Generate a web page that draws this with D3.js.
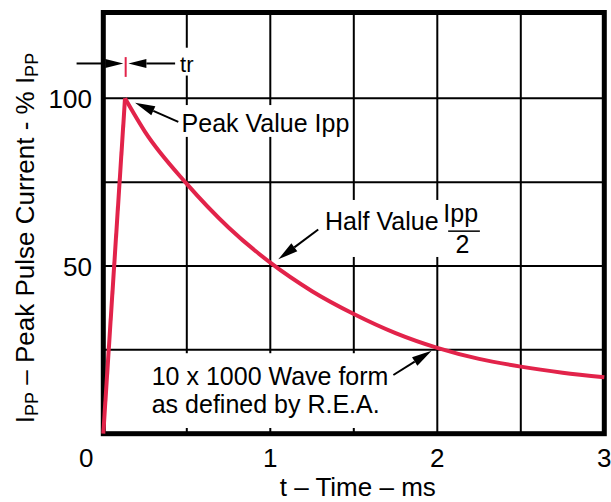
<!DOCTYPE html>
<html><head><meta charset="utf-8">
<script src="https://cdn.jsdelivr.net/npm/d3@7"></script>
<style>
html,body{margin:0;padding:0;background:#fff;}
svg{display:block;font-family:"Liberation Sans",Arial,Helvetica,sans-serif;}
</style></head>
<body>
<svg id="chart" width="611" height="502"></svg>
<script>
// ---- data ----
const xTickValues = [0, 1, 2, 3];
const xTickLabels = ["0", "1", "2", "3"];
const yTickValues = [50, 100];
const yTickLabels = ["50", "100"];
const xGridValues = [0.5, 1, 1.5, 2, 2.5];
const yGridValues = [25, 50, 75, 100];
const riseTime = [0, 0.13];
const riseValue = [0, 100];
const decayTime = [0.13, 0.25, 0.5, 0.75, 1, 1.25, 1.5, 1.75, 2, 2.25, 2.5, 2.75, 3];
const decayValue = [100, 90, 74.5, 61.5, 51, 42.5, 35.7, 30, 25.6, 22.3, 20, 18.2, 16.8];
const xTitle = "t \u2013 Time \u2013 ms";

const svg = d3.select("#chart");
const x = d3.scaleLinear().domain([0, 3]).range([103.3, 604.3]);
const y = d3.scaleLinear().domain([0, 125.6]).range([433.7, 12.5]);
const [x0, x1] = x.range();
const [y0, y1] = y.range();
const red = "#e2234a";

// gridlines
const grid = svg.append("g").attr("stroke", "#000").attr("stroke-width", 2);
grid.selectAll("line.v").data(xGridValues).join("line")
  .attr("x1", d => x(d)).attr("x2", d => x(d)).attr("y1", y1).attr("y2", y0);
grid.selectAll("line.h").data(yGridValues).join("line")
  .attr("y1", d => y(d)).attr("y2", d => y(d)).attr("x1", x0).attr("x2", x1);

// white boxes behind annotation text (in data units)
const boxes = [
  {t0: 0.449, t1: 0.557, v0: 106.8, v1: 115.1},   // tr
  {t0: 0.449, t1: 1.48, v0: 88.5, v1: 98.0},      // Peak Value
  {t0: 1.30, t1: 2.29, v0: 52.7, v1: 69.7},       // Half Value
  {t0: 0.25, t1: 1.74, v0: 1.7, v1: 24.0}         // 10 x 1000
];
svg.append("g").selectAll("rect").data(boxes).join("rect")
  .attr("x", d => x(d.t0)).attr("width", d => x(d.t1) - x(d.t0))
  .attr("y", d => y(d.v1)).attr("height", d => y(d.v0) - y(d.v1))
  .attr("fill", "#fff");

// tick labels
const tickFont = 26;
svg.append("g").selectAll("text").data(xTickValues).join("text")
  .attr("x", d => d === 0 ? x(d) - 17 : x(d)).attr("y", 467)
  .attr("text-anchor", "middle").attr("font-size", tickFont).attr("fill", "#000")
  .text((d, i) => xTickLabels[i]);
svg.append("g").selectAll("text").data(yTickValues).join("text")
  .attr("x", 92).attr("y", d => y(d) + 9.5)
  .attr("text-anchor", "end").attr("font-size", tickFont).attr("fill", "#000")
  .text((d, i) => yTickLabels[i]);

// axis titles
svg.append("text").attr("x", (x0 + x1) / 2 + 4).attr("y", 496)
  .attr("text-anchor", "middle").attr("font-size", 26).text(xTitle);
const yt = svg.append("text").attr("transform", "translate(34,238) rotate(-90)")
  .attr("text-anchor", "middle").attr("font-size", 26);
yt.append("tspan").text("I");
yt.append("tspan").attr("font-size", 18).attr("dy", 4).text("PP");
yt.append("tspan").attr("dy", -4).text(" \u2013 Peak Pulse Current - % I");
yt.append("tspan").attr("font-size", 18).attr("dy", 4).text("PP");

// annotation text
const annFont = 25;
svg.append("text").attr("x", x(0.46)).attr("y", y(107.9)).attr("font-size", 22).text("tr");
svg.append("text").attr("x", x(0.469)).attr("y", y(90.0)).attr("font-size", annFont).text("Peak Value Ipp");
svg.append("text").attr("x", x(1.328)).attr("y", y(60.7)).attr("font-size", annFont).text("Half Value");
svg.append("text").attr("x", x(2.14)).attr("y", y(63.2)).attr("text-anchor", "middle").attr("font-size", annFont).text("Ipp");
svg.append("line").attr("x1", x(2.065)).attr("x2", x(2.255)).attr("y1", y(60.4)).attr("y2", y(60.4))
  .attr("stroke", "#000").attr("stroke-width", 1.5);
svg.append("text").attr("x", x(2.15)).attr("y", y(53.8)).attr("text-anchor", "middle").attr("font-size", annFont).text("2");
svg.append("text").attr("x", x(0.29)).attr("y", y(14.5)).attr("font-size", annFont).text("10 x 1000 Wave form");
svg.append("text").attr("x", x(0.29)).attr("y", y(6.1)).attr("font-size", annFont).text("as defined by R.E.A.");

// frame
svg.append("rect").attr("x", x0).attr("y", y1).attr("width", x1 - x0).attr("height", y0 - y1)
  .attr("fill", "none").attr("stroke", "#000").attr("stroke-width", 5);

// curve
svg.append("path").datum(decayTime.map((t, i) => [t, decayValue[i]]))
  .attr("d", d3.line().curve(d3.curveMonotoneX).x(d => x(d[0])).y(d => y(d[1])))
  .attr("fill", "none").attr("stroke", red).attr("stroke-width", 4);
svg.append("path").datum(riseTime.map((t, i) => [t, riseValue[i]]))
  .attr("d", d3.line().x(d => x(d[0])).y(d => y(d[1])))
  .attr("fill", "none").attr("stroke", red).attr("stroke-width", 4);

// tr marker
svg.append("line").attr("x1", x(0.134)).attr("x2", x(0.134)).attr("y1", y(112.3)).attr("y2", y(106.4))
  .attr("stroke", red).attr("stroke-width", 2);

// arrows (data units)
function arrow(tTail, vTail, tTip, vTip, head = 20, half = 5) {
  const ax = x(tTail), ay = y(vTail), bx = x(tTip), by = y(vTip);
  const dx = bx - ax, dy = by - ay, L = Math.hypot(dx, dy);
  const ux = dx / L, uy = dy / L;
  const bxh = bx - ux * head, byh = by - uy * head;
  svg.append("line").attr("x1", ax).attr("y1", ay).attr("x2", bxh).attr("y2", byh)
    .attr("stroke", "#000").attr("stroke-width", 2);
  svg.append("path").attr("d", `M${bx},${by}L${bxh - uy * half},${byh + ux * half}L${bxh + uy * half},${byh - ux * half}Z`)
    .attr("fill", "#000");
}
arrow(-0.16, 110.4, 0.12, 110.4, 18, 4.5);
arrow(0.43, 110.4, 0.15, 110.4, 18, 4.5);
arrow(0.449, 93.0, 0.19, 98.7);
arrow(1.287, 60.9, 1.048, 52.0);
arrow(1.737, 17.5, 1.966, 24.7);
</script>
</body></html>
